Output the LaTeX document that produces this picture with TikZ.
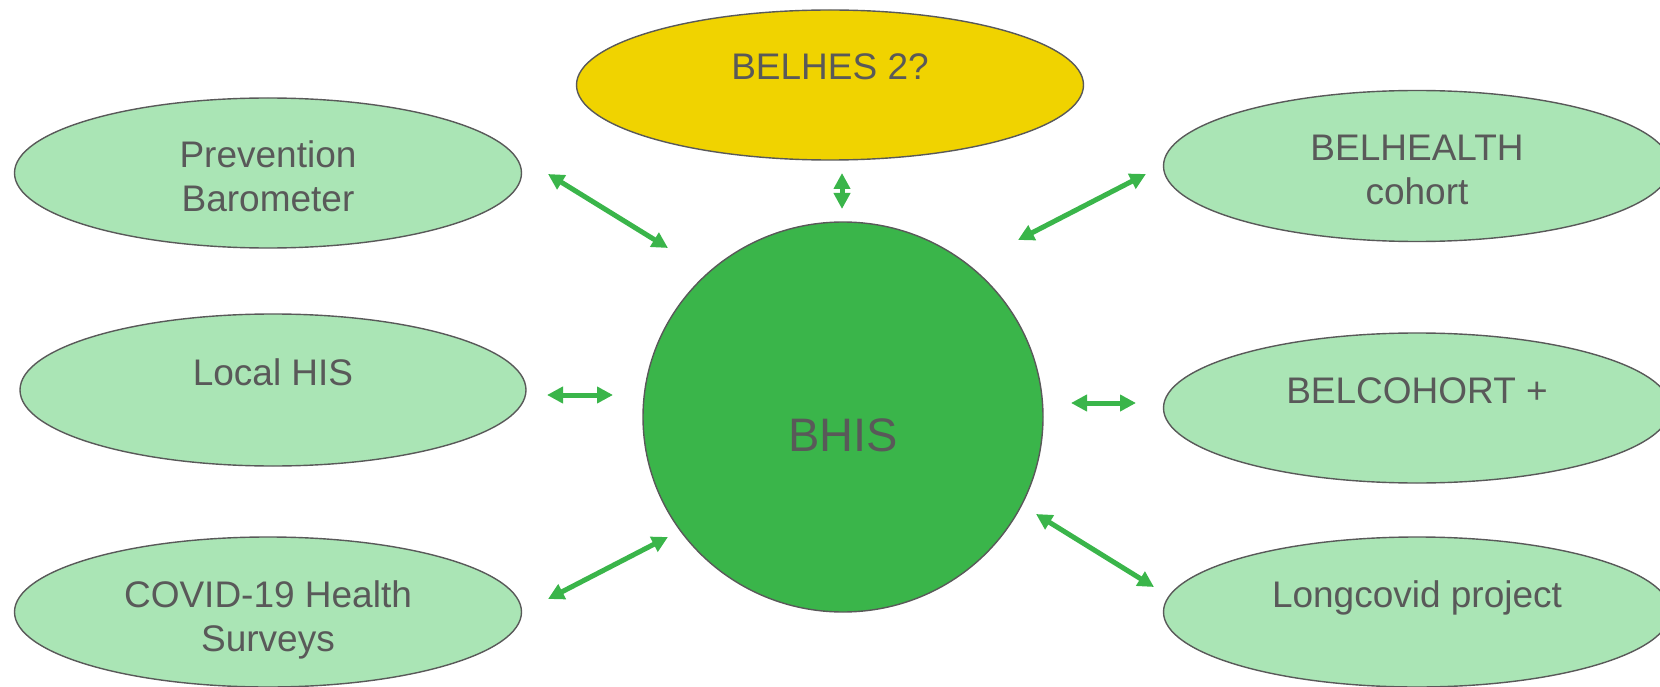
\documentclass[tikz,border=0pt]{standalone}
\usepackage{fontspec}
\setmainfont{Liberation Sans}
\usetikzlibrary{arrows.meta,shapes.geometric}

\definecolor{bhisgreen}{HTML}{3AB54A}
\definecolor{surveygreen}{HTML}{AAE5B5}
\definecolor{belyellow}{HTML}{F0D300}
\definecolor{labelgrey}{HTML}{595959}

\begin{document}
\begin{tikzpicture}[x=1pt,y=-1pt,
    survey/.style={ellipse,draw=labelgrey,line width=1.4pt,fill=surveygreen,
      minimum width=507pt,minimum height=150pt,inner sep=0pt,
      align=center,text=labelgrey,text height=78pt,text depth=0pt,
      font=\fontsize{37}{44}\selectfont},
    link/.style={{Triangle[length=16pt,width=16pt]}-{Triangle[length=16pt,width=16pt]},
      line width=5pt,draw=bhisgreen}]

  \useasboundingbox (0,0) rectangle (1660,687);

  \node (bhis) [ellipse,draw=labelgrey,line width=1.4pt,fill=bhisgreen,
                minimum width=400pt,minimum height=390pt,inner sep=0pt,
                text=labelgrey,text height=68pt,text depth=0pt,
                font=\fontsize{47}{56}\selectfont] at (843,417) {BHIS};

  \node (belhes) [survey,fill=belyellow] at (830,85) {BELHES 2?\\~};

  \node (prev) [survey] at (268,173) {Prevention\\Barometer};
  \node (local) [survey,minimum width=506pt,minimum height=152pt] at (273,390)
        {Local HIS\\~};
  \node (covid) [survey] at (268,612) {COVID-19 Health\\Surveys};

  \node (belhealth) [survey,minimum height=151pt] at (1417,166)
        {BELHEALTH\\cohort};
  \node (belcohort) [survey] at (1417,408) {BELCOHORT +\\~};
  \node (longcovid) [survey] at (1417,612) {Longcovid project\\~};

  % free ends of the links
  \coordinate (prevLink) at (548,174);
  \coordinate (bhisPrev) at (668,248);
  \coordinate (belhesLink) at (842,173);
  \coordinate (bhisBelhes) at (842,209);
  \coordinate (belhealthLink) at (1146,174);
  \coordinate (bhisBelhealth) at (1018,240);
  \coordinate (localLink) at (547,395);
  \coordinate (bhisLocal) at (613,395);
  \coordinate (belcohortLink) at (1136,403);
  \coordinate (bhisBelcohort) at (1071,403);
  \coordinate (covidLink) at (548,599);
  \coordinate (bhisCovid) at (668,537);
  \coordinate (longcovidLink) at (1154,587);
  \coordinate (bhisLongcovid) at (1036,514);

  \draw [link] (prevLink) -- (bhisPrev);
  \draw [link] (belhesLink) -- (bhisBelhes);
  \draw [link] (belhealthLink) -- (bhisBelhealth);
  \draw [link] (localLink) -- (bhisLocal);
  \draw [link] (belcohortLink) -- (bhisBelcohort);
  \draw [link] (covidLink) -- (bhisCovid);
  \draw [link] (longcovidLink) -- (bhisLongcovid);

\end{tikzpicture}
\end{document}
